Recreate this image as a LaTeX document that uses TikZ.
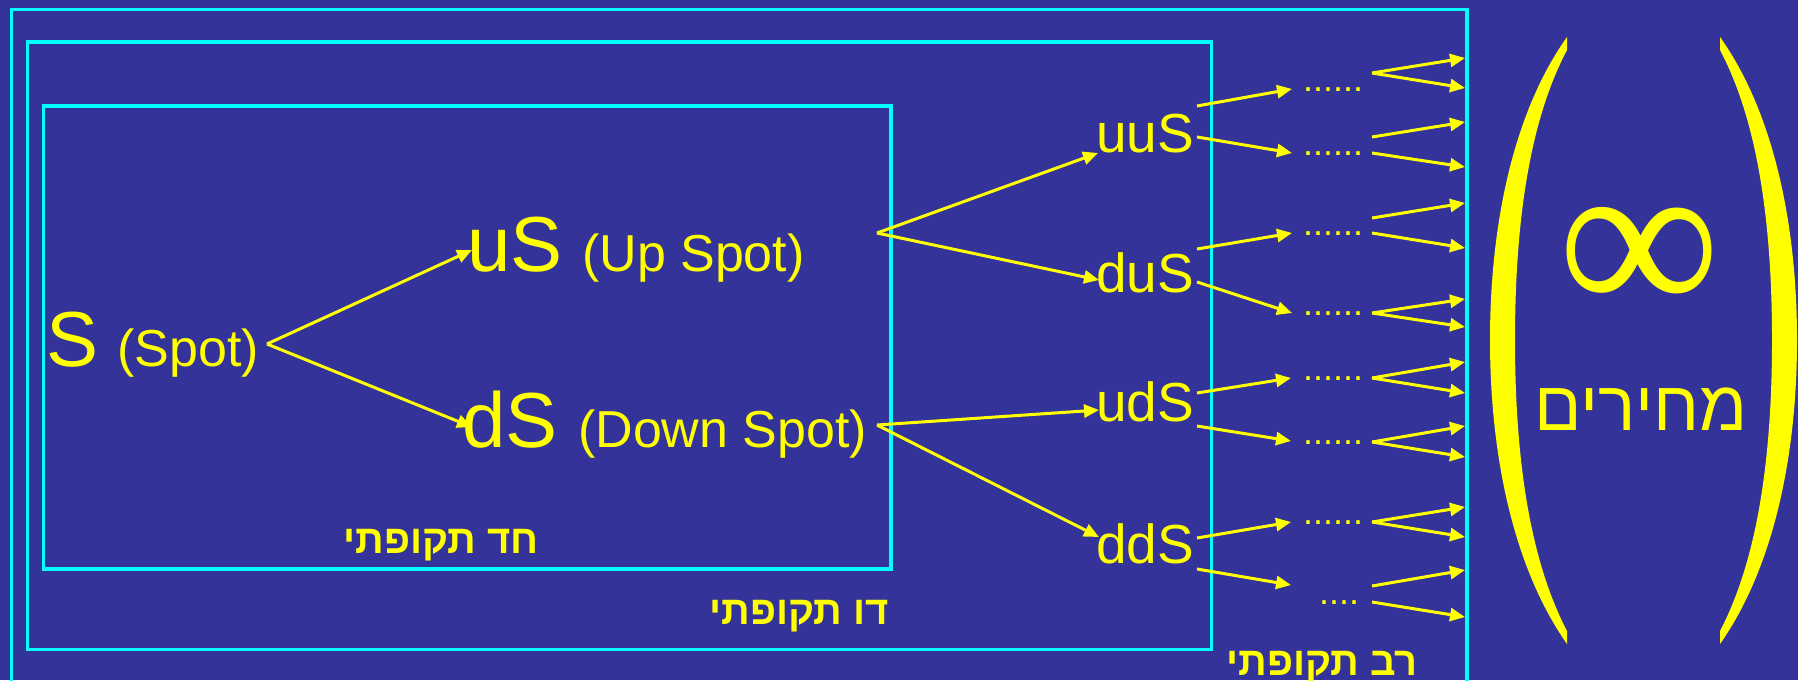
\documentclass[tikz,border=0pt]{standalone}
\usepackage{fontspec}
\usepackage{graphicx}
\setmainfont{Liberation Sans}
\newfontfamily\hebfont[Script=Hebrew]{Liberation Sans}
\newfontfamily\inffont{Liberation Serif}
\usetikzlibrary{arrows.meta}
\TeXXeTstate=1
\definecolor{bg}{HTML}{333399}
\definecolor{cy}{HTML}{00FFFF}
\definecolor{yl}{HTML}{FFFF00}
\tikzset{
  boxline/.style={draw=cy, line width=3.5pt},
  arr/.style={draw=yl, line width=3pt, -{Triangle[length=15pt,width=13pt]}},
  big/.style={text=yl, inner sep=0pt, anchor=base west, font=\fontsize{78}{80}\selectfont},
  mid/.style={text=yl, inner sep=0pt, anchor=base west, font=\fontsize{52}{56}\selectfont},
  lvl/.style={text=yl, inner sep=0pt, anchor=base west, font=\fontsize{55}{58}\selectfont},
  dotsn/.style={text=yl, inner sep=0pt, anchor=base, font=\fontsize{36}{40}\selectfont},
  heb/.style={text=yl, inner sep=0pt, anchor=base east, font=\hebfont\bfseries\fontsize{40}{44}\selectfont},
}
\begin{document}
\begin{tikzpicture}[x=1pt,y=-1pt]
\useasboundingbox (0,0) rectangle (1798,680);
\fill[bg] (0,0) rectangle (1798,680);
\clip (0,0) rectangle (1798,680);
% boxes
\draw[boxline] (11.5,9.5) rectangle (1467,700);
\draw[boxline] (27.7,42) rectangle (1211.5,649.5);
\draw[boxline] (43.7,106) rectangle (891,569);
% labels
\node[heb] (l1) at (539,553) {\beginR חד תקופתי\endR};
\node[heb] (l2) at (889,624) {\beginR דו תקופתי\endR};
\node[heb] (l3) at (1418,675) {\beginR רב תקופתי\endR};
% level 0-2 texts
\node[big] (S) at (46,366) {S};
\node[mid] (Sl) at (117,366) {(Spot)};
\node[big] (uS) at (467,271) {uS};
\node[mid] (uSl) at (582,271) {(Up Spot)};
\node[big] (dS) at (462,447) {dS};
\node[mid] (dSl) at (578,447) {(Down Spot)};
\node[lvl] (uuS) at (1096,152) {uuS};
\node[lvl] (duS) at (1096,292) {duS};
\node[lvl] (udS) at (1096,421) {udS};
\node[lvl] (ddS) at (1096,563) {ddS};
% dots
\node[dotsn] (d1) at (1333,91) {......};
\node[dotsn] (d2) at (1333,155) {......};
\node[dotsn] (d3) at (1333,235) {......};
\node[dotsn] (d4) at (1333,315) {......};
\node[dotsn] (d5) at (1333,380) {......};
\node[dotsn] (d6) at (1333,444) {......};
\node[dotsn] (d7) at (1333,524) {......};
\node[dotsn] (d8) at (1339,604) {....};
% connector ends
\coordinate (S-o) at (267,344);
\coordinate (uS-i) at (472,250);
\coordinate (dS-i) at (472,427);
\coordinate (uS-o) at (877,233);
\coordinate (dS-o) at (877,425);
\coordinate (uuS-i) at (1098,153);
\coordinate (duS-i) at (1099,280);
\coordinate (udS-i) at (1099,410);
\coordinate (ddS-i) at (1099,537);
\draw[arr] (S-o) -- (uS-i);
\draw[arr] (S-o) -- (dS-i);
\draw[arr] (uS-o) -- (uuS-i);
\draw[arr] (uS-o) -- (duS-i);
\draw[arr] (dS-o) -- (udS-i);
\draw[arr] (dS-o) -- (ddS-i);
% level 3 arrows
\coordinate (uuS-a) at (1197,106); \coordinate (uuS-b) at (1197,137);
\coordinate (duS-a) at (1197,249); \coordinate (duS-b) at (1197,282);
\coordinate (udS-a) at (1197,393); \coordinate (udS-b) at (1197,426);
\coordinate (ddS-a) at (1197,538); \coordinate (ddS-b) at (1197,569);
\coordinate (d1-i) at (1292,89);  \coordinate (d2-i) at (1292,153);
\coordinate (d3-i) at (1292,233); \coordinate (d4-i) at (1292,313);
\coordinate (d5-i) at (1291,378); \coordinate (d6-i) at (1291,441);
\coordinate (d7-i) at (1291,522); \coordinate (d8-i) at (1291,585);
\draw[arr] (uuS-a) -- (d1-i); \draw[arr] (uuS-b) -- (d2-i);
\draw[arr] (duS-a) -- (d3-i); \draw[arr] (duS-b) -- (d4-i);
\draw[arr] (udS-a) -- (d5-i); \draw[arr] (udS-b) -- (d6-i);
\draw[arr] (ddS-a) -- (d7-i); \draw[arr] (ddS-b) -- (d8-i);
% level 4 arrows
\coordinate (d1-o) at (1372,73);
\coordinate (d2-a) at (1372,137); \coordinate (d2-b) at (1372,153);
\coordinate (d3-a) at (1372,218); \coordinate (d3-b) at (1372,233);
\coordinate (d4-o) at (1372,313);
\coordinate (d5-o) at (1372,378);
\coordinate (d6-o) at (1372,442);
\coordinate (d7-o) at (1372,522);
\coordinate (d8-a) at (1372,586); \coordinate (d8-b) at (1372,602);
\foreach \n/\y in {1/58,2/88,3/122,4/167,5/203,6/248,7/299,8/327,9/362,10/393,11/426,12/457,13/507,14/537,15/570,16/617}
  \coordinate (t\n) at (1465,\y);
\draw[arr] (d1-o) -- (t1); \draw[arr] (d1-o) -- (t2);
\draw[arr] (d2-a) -- (t3); \draw[arr] (d2-b) -- (t4);
\draw[arr] (d3-a) -- (t5); \draw[arr] (d3-b) -- (t6);
\draw[arr] (d4-o) -- (t7); \draw[arr] (d4-o) -- (t8);
\draw[arr] (d5-o) -- (t9); \draw[arr] (d5-o) -- (t10);
\draw[arr] (d6-o) -- (t11); \draw[arr] (d6-o) -- (t12);
\draw[arr] (d7-o) -- (t13); \draw[arr] (d7-o) -- (t14);
\draw[arr] (d8-a) -- (t15); \draw[arr] (d8-b) -- (t16);
% parentheses
\fill[yl] (1567,37) .. controls (1515,110) and (1490,220) .. (1490,340)
  .. controls (1490,460) and (1515,570) .. (1567,644) -- (1567,631)
  .. controls (1530,560) and (1515,460) .. (1515,340)
  .. controls (1515,220) and (1530,120) .. (1567,50) -- cycle;
\fill[yl] (1720,37) .. controls (1772,110) and (1797,220) .. (1797,340)
  .. controls (1797,460) and (1772,570) .. (1720,644) -- (1720,631)
  .. controls (1757,560) and (1772,460) .. (1772,340)
  .. controls (1772,220) and (1757,120) .. (1720,50) -- cycle;
\node[text=yl, inner sep=0pt] (inf) at (1640,262) {\resizebox{162pt}{!}{\inffont ∞}};
\node[text=yl, inner sep=0pt, anchor=base, font=\hebfont\fontsize{70}{74}\selectfont] (prices) at (1641,430) {\beginR מחירים\endR};
\end{tikzpicture}
\end{document}
